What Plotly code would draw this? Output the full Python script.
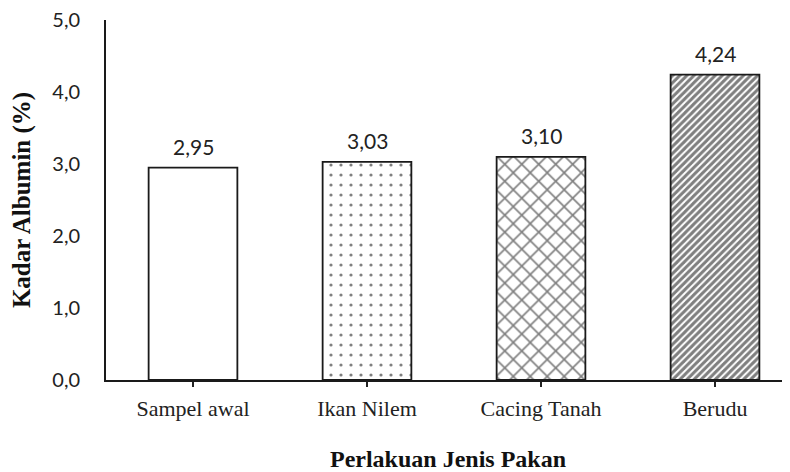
import plotly.graph_objects as go

categories = ["Sampel awal", "Ikan Nilem", "Cacing Tanah", "Berudu"]
values = [2.95, 3.03, 3.10, 4.24]
value_labels = ["2,95", "3,03", "3,10", "4,24"]
y_tickvals = [0, 1, 2, 3, 4, 5]
y_ticktext = ["0,0", "1,0", "2,0", "3,0", "4,0", "5,0"]

shapes = ["", ".", "x", "/"]
sizes = [8, 10, 12, 5]
solids = [0.2, 0.08, 0.25, 0.6]

fig = go.Figure()
for i, (c, v) in enumerate(zip(categories, values)):
    fig.add_trace(go.Bar(
        x=[c], y=[v], width=0.51,
        marker=dict(
            color="white",
            line=dict(color="#1a1a1a", width=1.8),
            pattern=dict(shape=shapes[i], size=sizes[i], solidity=solids[i],
                         fgcolor="black", bgcolor="white", fillmode="overlay"),
        ),
        showlegend=False,
        hoverinfo="skip",
    ))

for c, v, t in zip(categories, values, value_labels):
    fig.add_annotation(x=c, y=v, text=t, showarrow=False, yanchor="bottom",
                       yshift=7, font=dict(family="Lato", size=21, color="#222"))

fig.update_layout(
    width=782, height=464,
    margin=dict(l=98, r=0, t=12, b=92),
    paper_bgcolor="white", plot_bgcolor="white",
    barmode="overlay",
)
fig.update_xaxes(
    type="category", categoryorder="array", categoryarray=categories,
    range=[-0.5, 3.431], automargin=False,
    showline=True, linecolor="#1a1a1a", linewidth=1.8,
    ticks="outside", ticklen=5, tickwidth=1.6, tickcolor="#222",
    ticklabelstandoff=3,
    showgrid=False, zeroline=False,
    tickfont=dict(family="Liberation Serif", size=22, color="#222"),
    title=dict(text="<b>Perlakuan Jenis Pakan</b>", standoff=32,
               font=dict(family="Liberation Serif", size=24, color="#111")),
)
fig.update_yaxes(
    range=[0, 5], tickvals=y_tickvals, ticktext=y_ticktext, automargin=False,
    showline=True, linecolor="#1a1a1a", linewidth=1.8,
    ticks="", showgrid=False, zeroline=False,
    ticklabelstandoff=20, ticklabeloverflow="allow",
    tickfont=dict(family="Lato", size=20, color="#222"),
    title=dict(text="<b>Kadar Albumin (%)</b>", standoff=18,
               font=dict(family="Liberation Serif", size=25, color="#111")),
)

fig.write_html("out.html")
